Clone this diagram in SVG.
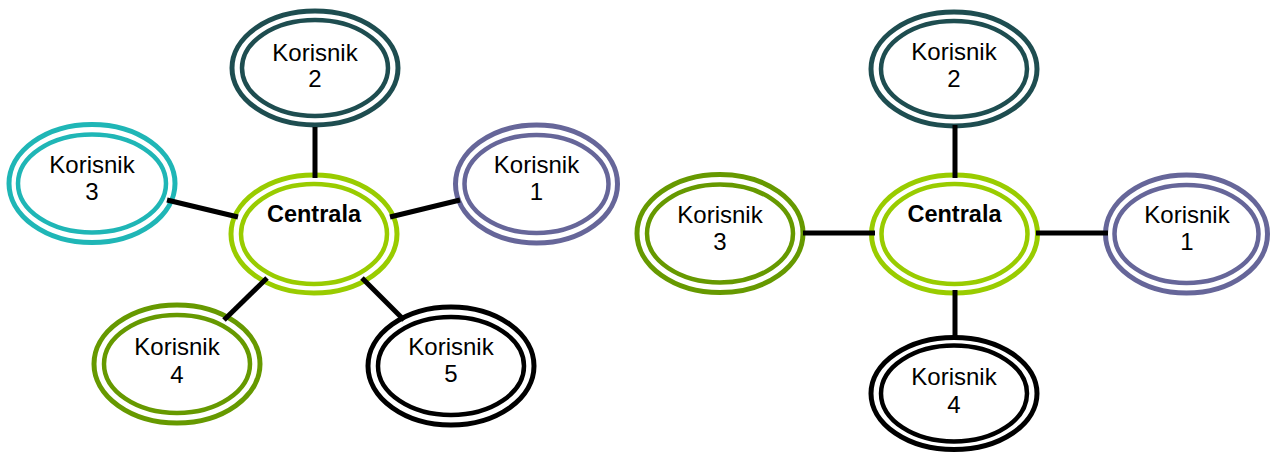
<svg xmlns="http://www.w3.org/2000/svg" width="1272" height="455" viewBox="0 0 1272 455">
<style>
.o{fill:#fff;stroke-width:5}
.i{fill:none;stroke-width:4.5}
.t{font-family:"Liberation Sans",Arial,sans-serif;font-size:24px;fill:#000;text-anchor:middle}
.c{font-weight:bold;font-size:23.5px}
#conn line{stroke:#000;stroke-width:5}
.lime{stroke:#99CC00}.teal{stroke:#1E4D50}.cyan{stroke:#1FB6B6}.purp{stroke:#666699}.grn{stroke:#669900}.blk{stroke:#000}
</style>
<rect width="1272" height="455" fill="#fff"/>
<g id="n-centrala-l"><ellipse class="o lime" cx="314" cy="234" rx="83" ry="59"/><ellipse class="i lime" cx="314" cy="234" rx="73" ry="50"/><text class="t c" x="314" y="222">Centrala</text></g>
<g id="n-k2-l"><ellipse class="o teal" cx="315" cy="68" rx="83" ry="57"/><ellipse class="i teal" cx="315" cy="68" rx="73" ry="48"/><text class="t" x="315" y="61">Korisnik</text><text class="t" x="315" y="87">2</text></g>
<g id="n-k3-l"><ellipse class="o cyan" cx="92" cy="183.5" rx="83" ry="59"/><ellipse class="i cyan" cx="92" cy="183.5" rx="74" ry="49"/><text class="t" x="92" y="173">Korisnik</text><text class="t" x="92" y="200">3</text></g>
<g id="n-k1-l"><ellipse class="o purp" cx="536.5" cy="184" rx="81" ry="59"/><ellipse class="i purp" cx="536.5" cy="184" rx="72" ry="49"/><text class="t" x="536.5" y="173">Korisnik</text><text class="t" x="536.5" y="200">1</text></g>
<g id="n-k4-l"><ellipse class="o grn" cx="177" cy="364" rx="83" ry="59"/><ellipse class="i grn" cx="177" cy="364" rx="73" ry="49"/><text class="t" x="177" y="355">Korisnik</text><text class="t" x="177" y="383">4</text></g>
<g id="n-k5-l"><ellipse class="o blk" cx="451" cy="366" rx="83" ry="59"/><ellipse class="i blk" cx="451" cy="366" rx="73" ry="49"/><text class="t" x="451" y="355">Korisnik</text><text class="t" x="451" y="382">5</text></g>
<g id="n-centrala-r"><ellipse class="o lime" cx="954.5" cy="234" rx="83" ry="59"/><ellipse class="i lime" cx="954.5" cy="234" rx="73" ry="50"/><text class="t c" x="954.5" y="222">Centrala</text></g>
<g id="n-k2-r"><ellipse class="o teal" cx="954" cy="69" rx="83" ry="57"/><ellipse class="i teal" cx="954" cy="69" rx="73" ry="48"/><text class="t" x="954" y="60">Korisnik</text><text class="t" x="954" y="87">2</text></g>
<g id="n-k3-r"><ellipse class="o grn" cx="720" cy="233.5" rx="83" ry="59"/><ellipse class="i grn" cx="720" cy="233.5" rx="73" ry="49"/><text class="t" x="720" y="223">Korisnik</text><text class="t" x="720" y="250">3</text></g>
<g id="n-k1-r"><ellipse class="o purp" cx="1186.5" cy="234" rx="81" ry="59"/><ellipse class="i purp" cx="1186.5" cy="234" rx="72" ry="49"/><text class="t" x="1187" y="223">Korisnik</text><text class="t" x="1187" y="250">1</text></g>
<g id="n-k4-r"><ellipse class="o blk" cx="954" cy="393.5" rx="83" ry="56"/><ellipse class="i blk" cx="954" cy="393.5" rx="73" ry="48"/><text class="t" x="954" y="385">Korisnik</text><text class="t" x="954" y="413">4</text></g>
<g id="conn">
<line x1="315" y1="127" x2="315" y2="178"/>
<line x1="167" y1="200" x2="238" y2="217"/>
<line x1="390" y1="217" x2="460" y2="200"/>
<line x1="267" y1="278" x2="224" y2="320"/>
<line x1="362" y1="278" x2="404" y2="320"/>
<line x1="955" y1="125" x2="955" y2="178"/>
<line x1="803" y1="233" x2="875" y2="233"/>
<line x1="1036" y1="233" x2="1108" y2="233"/>
<line x1="955" y1="290" x2="955" y2="340"/>
</g>
</svg>
